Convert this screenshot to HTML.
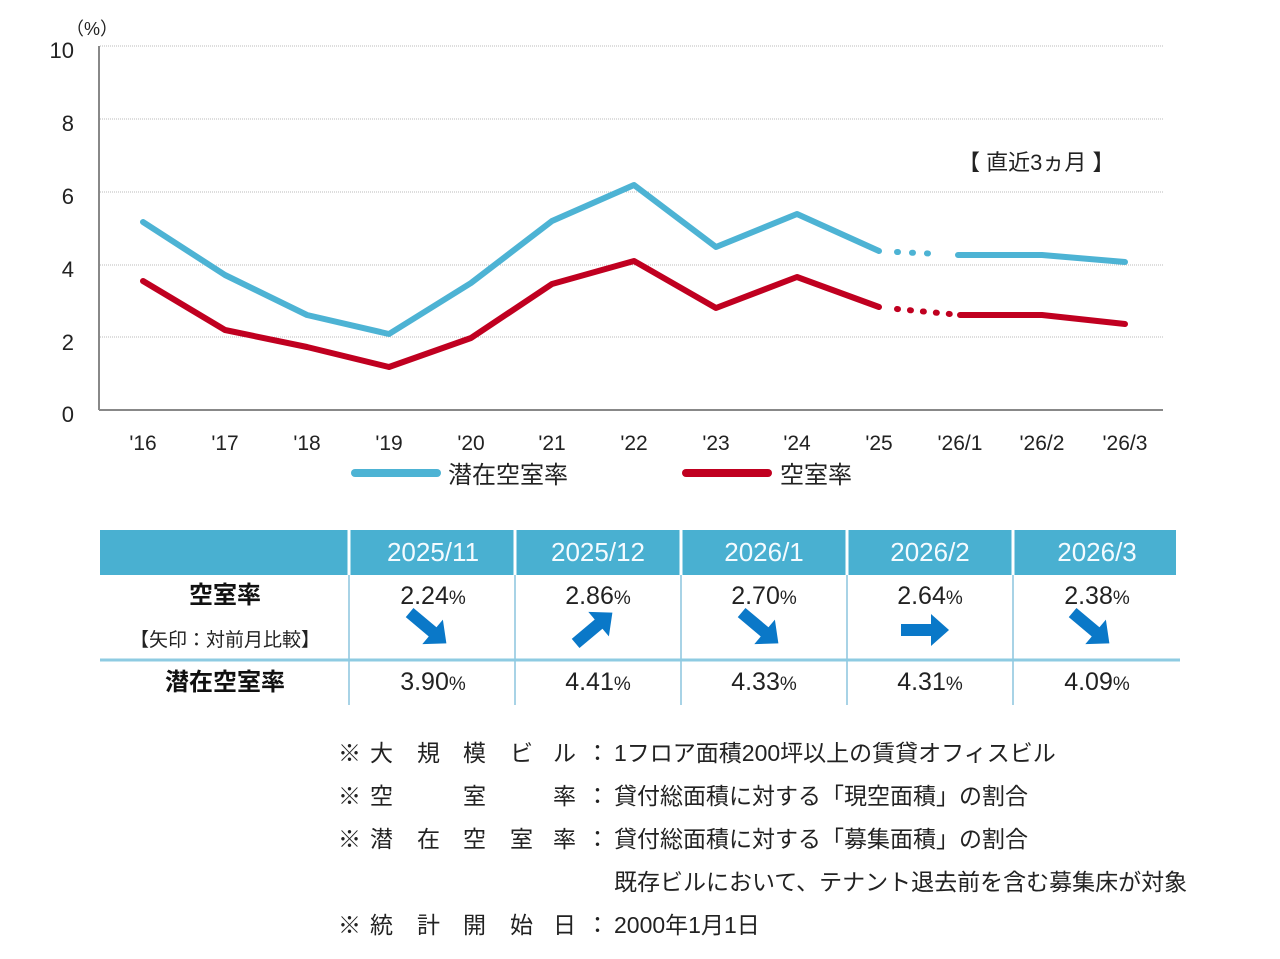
<!DOCTYPE html>
<html><head><meta charset="utf-8"><style>
body{margin:0;background:#fff;width:1280px;height:954px;overflow:hidden;font-family:"Liberation Sans","Noto Sans CJK JP",sans-serif;}
svg text{font-family:"Liberation Sans","Noto Sans CJK JP",sans-serif;}
</style></head><body>
<svg width="1280" height="954" xmlns="http://www.w3.org/2000/svg">
<g stroke="#bbb" stroke-dasharray="1,1" stroke-width="1">
<line x1="100" x2="1163" y1="46" y2="46"/><line x1="100" x2="1163" y1="119" y2="119"/>
<line x1="100" x2="1163" y1="192" y2="192"/><line x1="100" x2="1163" y1="265" y2="265"/>
<line x1="100" x2="1163" y1="337" y2="337"/></g>
<line x1="99" y1="46" x2="99" y2="410" stroke="#888" stroke-width="2"/>
<line x1="99" y1="410" x2="1163" y2="410" stroke="#888" stroke-width="2"/>
<g font-size="22" fill="#222" text-anchor="end">
<text x="74" y="58">10</text><text x="74" y="131">8</text><text x="74" y="204">6</text>
<text x="74" y="277">4</text><text x="74" y="350">2</text><text x="74" y="422">0</text></g>
<text x="66" y="35" font-size="18" fill="#222">（%）</text>
<g font-size="21" fill="#222" text-anchor="middle">
<text x="143" y="450">'16</text><text x="225" y="450">'17</text><text x="307" y="450">'18</text>
<text x="389" y="450">'19</text><text x="471" y="450">'20</text><text x="552" y="450">'21</text>
<text x="634" y="450">'22</text><text x="716" y="450">'23</text><text x="797" y="450">'24</text>
<text x="879" y="450">'25</text><text x="960" y="450">'26/1</text><text x="1042" y="450">'26/2</text><text x="1125" y="450">'26/3</text></g>
<text x="958" y="170" font-size="22" fill="#222">【 直近3ヵ月 】</text>
<g fill="none" stroke-width="6" stroke-linejoin="round" stroke-linecap="round">
<polyline stroke="#4db3d4" points="143,222 225,275 307,315 389,334 471,283 552,221 634,185 716,247 797,214 879,251"/>
<polyline stroke="#4db3d4" points="958,255 1042,255 1125,262"/>
<polyline stroke="#4db3d4" stroke-dasharray="1,14" points="897,252 940,254"/>
<polyline stroke="#c00020" points="143,281 225,330 307,347 389,367 471,338 552,284 634,261 716,308 797,277 879,307"/>
<polyline stroke="#c00020" points="960,315 1042,315 1125,324"/>
<polyline stroke="#c00020" stroke-dasharray="1,12" points="897,309 950,314"/>
</g>
<line x1="355" y1="473" x2="437" y2="473" stroke="#4db3d4" stroke-width="8" stroke-linecap="round"/>
<text x="448" y="483" font-size="24" fill="#222">潜在空室率</text>
<line x1="686" y1="473" x2="768" y2="473" stroke="#c00020" stroke-width="8" stroke-linecap="round"/>
<text x="780" y="483" font-size="24" fill="#222">空室率</text>
<rect x="100" y="530" width="1076" height="45" fill="#49b0d1"/>
<g stroke="#fff" stroke-width="3"><line x1="349" y1="530" x2="349" y2="575"/><line x1="515" y1="530" x2="515" y2="575"/><line x1="681" y1="530" x2="681" y2="575"/><line x1="847" y1="530" x2="847" y2="575"/><line x1="1013" y1="530" x2="1013" y2="575"/></g>
<g stroke="#a8d3e6" stroke-width="2"><line x1="349" y1="575" x2="349" y2="705"/><line x1="515" y1="575" x2="515" y2="705"/><line x1="681" y1="575" x2="681" y2="705"/><line x1="847" y1="575" x2="847" y2="705"/><line x1="1013" y1="575" x2="1013" y2="705"/></g>
<line x1="100" y1="660" x2="1180" y2="660" stroke="#8ecbe2" stroke-width="3"/>
<g font-size="26" fill="#f4fbff" text-anchor="middle">
<text x="433" y="561">2025/11</text><text x="598" y="561">2025/12</text><text x="764" y="561">2026/1</text><text x="930" y="561">2026/2</text><text x="1097" y="561">2026/3</text></g>
<text x="225" y="603" font-size="24" font-weight="bold" text-anchor="middle" fill="#111">空室率</text>
<text x="225" y="646" font-size="19" text-anchor="middle" fill="#222">【矢印：対前月比較】</text>
<text x="225" y="690" font-size="24" font-weight="bold" text-anchor="middle" fill="#111">潜在空室率</text>
<g font-size="25" fill="#222" text-anchor="middle">
<text x="433" y="604">2.24<tspan font-size="19">%</tspan></text><text x="598" y="604">2.86<tspan font-size="19">%</tspan></text><text x="764" y="604">2.70<tspan font-size="19">%</tspan></text><text x="930" y="604">2.64<tspan font-size="19">%</tspan></text><text x="1097" y="604">2.38<tspan font-size="19">%</tspan></text>
<text x="433" y="690">3.90<tspan font-size="19">%</tspan></text><text x="598" y="690">4.41<tspan font-size="19">%</tspan></text><text x="764" y="690">4.33<tspan font-size="19">%</tspan></text><text x="930" y="690">4.31<tspan font-size="19">%</tspan></text><text x="1097" y="690">4.09<tspan font-size="19">%</tspan></text></g>
<defs><path id="ar" d="M-24,-6 L6,-6 L6,-16 L24,0 L6,16 L6,6 L-24,6 Z" fill="#0a78c8"/></defs>
<use href="#ar" transform="translate(428,628) rotate(40)"/>
<use href="#ar" transform="translate(594,628) rotate(-40)"/>
<use href="#ar" transform="translate(760,628) rotate(40)"/>
<use href="#ar" transform="translate(925,630)"/>
<use href="#ar" transform="translate(1091,628) rotate(40)"/>
<g font-size="23" fill="#222">
<text x="338" y="761">※</text><text x="370" y="761">大</text><text x="417" y="761">規</text><text x="463" y="761">模</text><text x="510" y="761">ビ</text><text x="553" y="761">ル</text><text x="586" y="761">：</text><text x="614" y="761">1フロア面積200坪以上の賃貸オフィスビル</text>
<text x="338" y="804">※</text><text x="370" y="804">空</text><text x="463" y="804">室</text><text x="553" y="804">率</text><text x="586" y="804">：</text><text x="614" y="804">貸付総面積に対する「現空面積」の割合</text>
<text x="338" y="847">※</text><text x="370" y="847">潜</text><text x="417" y="847">在</text><text x="463" y="847">空</text><text x="510" y="847">室</text><text x="553" y="847">率</text><text x="586" y="847">：</text><text x="614" y="847">貸付総面積に対する「募集面積」の割合</text>
<text x="614" y="890">既存ビルにおいて、テナント退去前を含む募集床が対象</text>
<text x="338" y="933">※</text><text x="370" y="933">統</text><text x="417" y="933">計</text><text x="463" y="933">開</text><text x="510" y="933">始</text><text x="553" y="933">日</text><text x="586" y="933">：</text><text x="614" y="933">2000年1月1日</text></g>
</svg>
</body></html>
